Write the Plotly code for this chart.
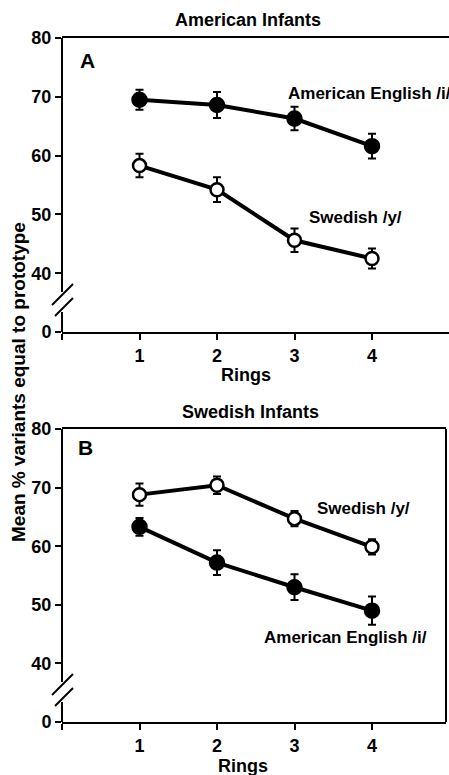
import plotly.graph_objects as go

# ---- data ----
rings = [1, 2, 3, 4]
# Panel A: American infants
a_english = [69.5, 68.6, 66.3, 61.6]
a_english_err = [1.7, 2.2, 2.0, 2.1]
a_swedish = [58.3, 54.2, 45.6, 42.5]
a_swedish_err = [2.0, 2.1, 2.0, 1.7]
# Panel B: Swedish infants
b_swedish = [68.8, 70.4, 64.7, 59.9]
b_swedish_err = [1.9, 1.5, 1.3, 1.3]
b_english = [63.3, 57.2, 53.0, 49.0]
b_english_err = [1.5, 2.1, 2.2, 2.4]

# broken y axis: the "0" tick is drawn where 30 would be
y_tickvals = [30, 40, 50, 60, 70, 80]
y_ticktext = ["0", "40", "50", "60", "70", "80"]
x_tickvals = [0, 1, 2, 3, 4]
x_ticktext = ["", "1", "2", "3", "4"]

W, H = 449, 775
L = 62
FONT = "Liberation Sans, Arial, Helvetica, sans-serif"
BLACK = "#000000"

fig = go.Figure()


def add_series(y, err, filled, xa, ya):
    fig.add_trace(go.Scatter(
        x=rings, y=y, xaxis=xa, yaxis=ya, mode="lines+markers",
        line=dict(color=BLACK, width=4),
        marker=dict(size=14 if filled else 13, symbol="circle",
                    color=BLACK if filled else "white",
                    line=dict(color=BLACK, width=2.5)),
        error_y=dict(type="data", array=err, visible=True, color=BLACK,
                     thickness=2, width=4),
        showlegend=False, hoverinfo="skip"))


add_series(a_swedish, a_swedish_err, False, "x", "y")
add_series(a_english, a_english_err, True, "x", "y")
add_series(b_english, b_english_err, True, "x2", "y2")
add_series(b_swedish, b_swedish_err, False, "x2", "y2")

# plot-area pixel geometry
A_top, A_bot = 38, 332
B_top, B_bot = 429, 722
A_right, B_right = 449, 446
pw = W - L

ax_common = dict(showgrid=False, zeroline=False, showline=True, mirror=True,
                 linecolor=BLACK, linewidth=2, ticks="outside", ticklen=6,
                 tickwidth=2, tickcolor=BLACK, tickvals=x_tickvals,
                 ticktext=x_ticktext,
                 tickfont=dict(family=FONT, size=18, color=BLACK, weight="bold"))
ay_common = dict(showgrid=False, zeroline=False, showline=False,
                 ticks="outside", ticklen=6, tickwidth=2, tickcolor=BLACK,
                 tickvals=y_tickvals, ticktext=y_ticktext, range=[30, 80],
                 tickfont=dict(family=FONT, size=18, color=BLACK, weight="bold"))

fig.update_layout(
    width=W, height=H, margin=dict(l=L, r=0, t=0, b=0, autoexpand=False),
    paper_bgcolor="white", plot_bgcolor="white",
    xaxis=dict(ax_common, domain=[0, 1], range=[0, (A_right - L) / 77.5],
               anchor="y"),
    yaxis=dict(ay_common, domain=[(H - A_bot) / H, (H - A_top) / H],
               anchor="x"),
    xaxis2=dict(ax_common, domain=[0, (B_right - L) / pw],
                range=[0, (B_right - L) / 77.5], anchor="y2"),
    yaxis2=dict(ay_common, domain=[(H - B_bot) / H, (H - B_top) / H],
                anchor="x2"),
)

shapes = []


def px_x(px, width):
    return (px - L) / width


def add_axis_decor(xr, yr, top, bot, width, right_border):
    h = bot - top

    def py(p):
        return (bot - p) / h
    line = dict(color=BLACK, width=2)
    # left axis line with a break
    shapes.append(dict(type="line", xref=xr, yref=yr, x0=0, x1=0,
                       y0=1, y1=py(bot - 40), line=line))
    shapes.append(dict(type="line", xref=xr, yref=yr, x0=0, x1=0,
                       y0=py(bot - 20), y1=0, line=line))
    # break slashes
    shapes.append(dict(type="line", xref=xr, yref=yr,
                       x0=px_x(52, width), y0=py(bot - 27),
                       x1=px_x(73, width), y1=py(bot - 48), line=line))
    shapes.append(dict(type="line", xref=xr, yref=yr,
                       x0=px_x(55, width), y0=py(bot - 16),
                       x1=px_x(73, width), y1=py(bot - 34), line=line))
    if right_border:
        shapes.append(dict(type="line", xref=xr, yref=yr, x0=1, x1=1,
                           y0=0, y1=1, line=line))


add_axis_decor("x domain", "y domain", A_top, A_bot, pw, False)
add_axis_decor("x2 domain", "y2 domain", B_top, B_bot, B_right - L, True)
fig.update_layout(shapes=shapes)

tfont = dict(family=FONT, size=18, color=BLACK, weight="bold")
yfont = dict(family=FONT, size=19, color=BLACK, weight="bold")
lfont = dict(family=FONT, size=17, color=BLACK, weight="bold")
annos = [
    dict(text="American Infants", xref="paper", yref="paper",
         x=(248 - L) / pw, y=(H - 20) / H, font=tfont),
    dict(text="Swedish Infants", xref="paper", yref="paper",
         x=(250 - L) / pw, y=(H - 412) / H, font=tfont),
    dict(text="Rings", xref="paper", yref="paper",
         x=(246 - L) / pw, y=(H - 375) / H, font=tfont),
    dict(text="Rings", xref="paper", yref="paper",
         x=(243 - L) / pw, y=(H - 766) / H, font=tfont),
    dict(text="Mean % variants equal to prototype", xref="paper",
         yref="paper", x=(18 - L) / pw, y=(H - 382) / H, textangle=-90,
         font=yfont),
    dict(text="A", xref="x", yref="y", x=0.335, y=76.1,
         font=dict(family=FONT, size=21, color=BLACK, weight="bold")),
    dict(text="B", xref="x2", yref="y2", x=0.297, y=76.8,
         font=dict(family=FONT, size=21, color=BLACK, weight="bold")),
    dict(text="American English /i/", xref="x", yref="y", x=2.89, y=70.6,
         xanchor="left", font=lfont),
    dict(text="Swedish /y/", xref="x", yref="y", x=3.16, y=49.4,
         xanchor="left", font=lfont),
    dict(text="Swedish /y/", xref="x2", yref="y2", x=3.26, y=66.5,
         xanchor="left", font=lfont),
    dict(text="American English /i/", xref="x2", yref="y2", x=2.58, y=44.4,
         xanchor="left", font=lfont),
]
for a in annos:
    a.setdefault("xanchor", "center")
    a.setdefault("yanchor", "middle")
    a["showarrow"] = False
fig.update_layout(annotations=annos)

fig.write_html("out.html", config={"displayModeBar": False})

# remove the browser's default page margin so the figure sits at (0, 0)
with open("out.html", "r", encoding="utf-8") as f:
    html = f.read()
html = html.replace(
    "<head>",
    "<head><style>html,body{margin:0;padding:0;overflow:hidden;}</style>", 1)
with open("out.html", "w", encoding="utf-8") as f:
    f.write(html)
